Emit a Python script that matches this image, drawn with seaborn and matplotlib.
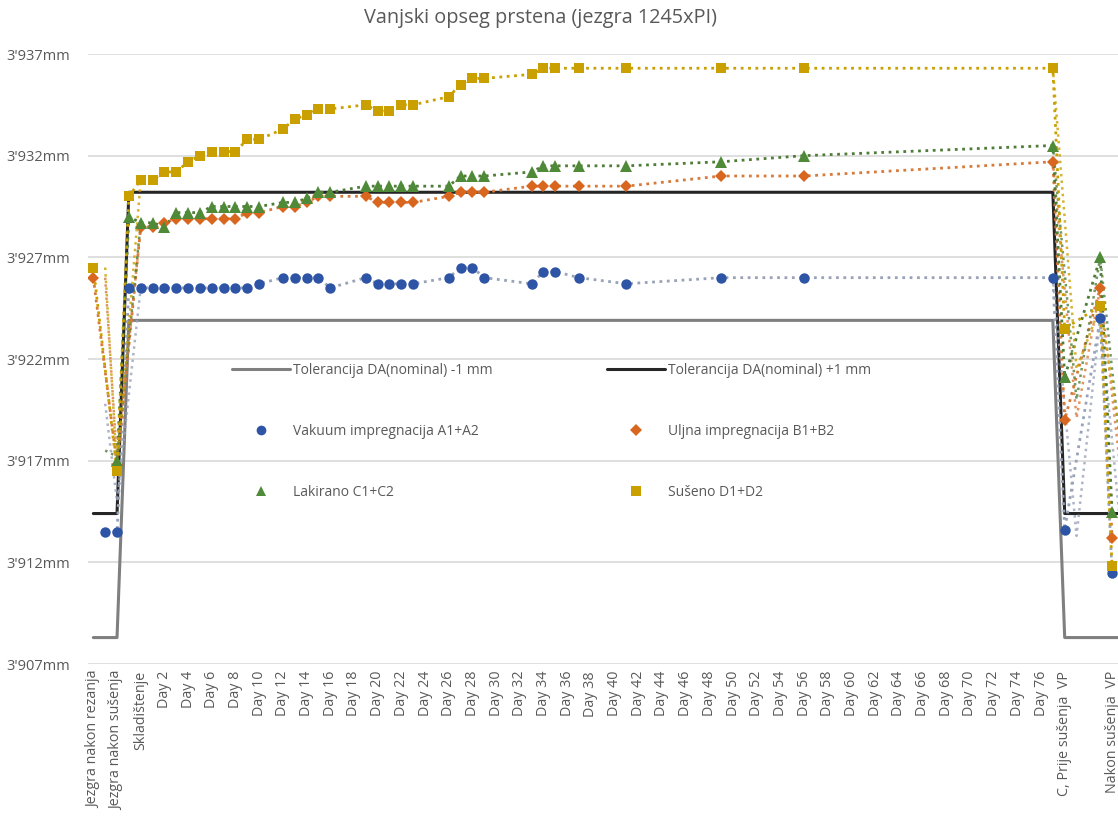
# Vanjski opseg prstena - rekonstrukcija grafa
import pandas as pd
import matplotlib.pyplot as plt
from matplotlib.lines import Line2D
import seaborn as sns

# Kategorije na x osi (svaka druga je prikazana)
kategorije = (["Jezgra nakon rezanja", "", "Jezgra nakon sušenja", "", "Skladištenje"]
              + [f"Day {d}" for d in range(1, 78)]
              + ["C, Prije sušenja  VP", "", "", "", "Nakon sušenja  VP", "", ""])

# Pozicije mjerenja tijekom skladištenja (indeksi kategorija)
mjerenja = [3, 4, 5, 6, 7, 8, 9, 10, 11, 12, 13, 14, 16, 17, 18, 19, 20,
            23, 24, 25, 26, 27, 30, 31, 32, 33, 37, 38, 39, 41, 45, 53, 60, 81]

vakuum = [3925.5, 3925.5, 3925.5, 3925.5, 3925.5, 3925.5, 3925.5, 3925.5, 3925.5, 3925.5, 3925.5,
          3925.7, 3926.0, 3926.0, 3926.0, 3926.0, 3925.5, 3926.0, 3925.7, 3925.7, 3925.7, 3925.7,
          3926.0, 3926.5, 3926.5, 3926.0, 3925.7, 3926.3, 3926.3, 3926.0, 3925.7, 3926.0, 3926.0, 3926.0]
uljna = [None, 3928.5, 3928.5, 3928.7, 3928.9, 3928.9, 3928.9, 3928.9, 3928.9, 3928.9, 3929.2,
         3929.2, 3929.5, 3929.5, 3929.7, 3930.0, 3930.0, 3930.0, 3929.7, 3929.7, 3929.7, 3929.7,
         3930.0, 3930.2, 3930.2, 3930.2, 3930.5, 3930.5, 3930.5, 3930.5, 3930.5, 3931.0, 3931.0, 3931.7]
lakirano = [3929.0, 3928.7, 3928.7, 3928.5, 3929.2, 3929.2, 3929.2, 3929.5, 3929.5, 3929.5, 3929.5,
            3929.5, 3929.7, 3929.7, 3929.9, 3930.2, 3930.2, 3930.5, 3930.5, 3930.5, 3930.5, 3930.5,
            3930.5, 3931.0, 3931.0, 3931.0, 3931.2, 3931.5, 3931.5, 3931.5, 3931.5, 3931.7, 3932.0, 3932.5]
suseno = [3930.0, 3930.8, 3930.8, 3931.2, 3931.2, 3931.7, 3932.0, 3932.2, 3932.2, 3932.2, 3932.8,
          3932.8, 3933.3, 3933.8, 3934.0, 3934.3, 3934.3, 3934.5, 3934.2, 3934.2, 3934.5, 3934.5,
          3934.9, 3935.5, 3935.8, 3935.8, 3936.0, 3936.3, 3936.3, 3936.3, 3936.3, 3936.3, 3936.3, 3936.3]

# Mjerenja prije skladištenja
vakuum_prije_x, vakuum_prije = [1, 2], [3913.5, 3913.5]
uljna_prije_x, uljna_prije = [0, 2], [3926.0, 3916.8]
lakirano_prije_x, lakirano_prije = [2], [3917.0]
suseno_prije_x, suseno_prije = [0, 2], [3926.5, 3916.5]

# Mjerenja prije / nakon sušenja VP
vp_x = [82, 85, 86]
vakuum_vp = [3913.6, 3924.0, 3911.5]
uljna_vp = [3919.0, 3925.5, 3913.2]
lakirano_vp = [3921.1, 3927.0, 3914.5]
suseno_vp = [3923.5, 3924.6, 3911.8]

# Drugi uzorak (samo točkasta linija)
drugi_lijevo_x = [1, 2, 4]
drugi_desno_x = [81, 83, 85, 87]
vakuum_drugi = [3919.8, 3915.0, 3925.5], [3926.0, 3913.3, 3924.0, 3912.0]
uljna_drugi = [3926.0, 3917.0, 3928.5], [3931.7, 3919.1, 3925.5, 3915.0]
lakirano_drugi = [3917.5, 3917.2, 3928.7], [3932.5, 3920.0, 3927.0, 3916.0]
suseno_drugi = [3926.5, 3916.5, 3930.8], [3936.3, 3921.5, 3924.6, 3917.0]

# Tolerancije
tol_minus = [3908.3] * 3 + [3923.9] * 79 + [3908.3] * 7
tol_plus = [3914.4] * 3 + [3930.2] * 79 + [3914.4] * 7

sns.set_style("white")
plt.rcParams['font.family'] = ['Open Sans', 'DejaVu Sans']

fig = plt.figure(figsize=(11.18, 8.21), dpi=100)
ax = fig.add_axes([88 / 1118, 1 - 664 / 821, 1 - 88 / 1118, 610 / 821])

# Linije tolerancije
sns.lineplot(x=list(range(len(tol_minus))), y=tol_minus, color='#7f7f7f', lw=2.2, ax=ax)
sns.lineplot(x=list(range(len(tol_plus))), y=tol_plus, color='#262626', lw=2.2, ax=ax)

serije = [
    (vakuum, vakuum_prije_x, vakuum_prije, vakuum_vp, vakuum_drugi, '#2e55a5', '#98a2b8', 'o', 7.5),
    (uljna, uljna_prije_x, uljna_prije, uljna_vp, uljna_drugi, '#d8661e', '#d87a3a', 'D', 6.5),
    (lakirano, lakirano_prije_x, lakirano_prije, lakirano_vp, lakirano_drugi, '#4f8a38', '#4f7d38', '^', 8.5),
    (suseno, suseno_prije_x, suseno_prije, suseno_vp, suseno_drugi, '#c9a000', '#c9a000', 's', 7.8),
]

for vals, px, pv, vp, drugi, boja, boja_linije, marker, ms in serije:
    df = pd.DataFrame({'x': px + mjerenja + vp_x, 'y': pv + vals + vp}).dropna()
    # drugi uzorak - bez markera
    d2 = pd.DataFrame({'x': drugi_lijevo_x + drugi_desno_x,
                       'y': drugi[0] + drugi[1],
                       'seg': [0] * len(drugi_lijevo_x) + [1] * len(drugi_desno_x)})
    sns.lineplot(data=d2, x='x', y='y', units='seg', estimator=None, sort=False,
                 color=boja_linije, lw=1.8, linestyle=':', alpha=0.8, ax=ax)
    sns.lineplot(data=df, x='x', y='y', sort=False, estimator=None, color=boja_linije,
                 lw=2, linestyle=':', ax=ax)
    ax.plot(df['x'], df['y'], linestyle='none', marker=marker, ms=ms, mew=0, color=boja, zorder=4)

# Osi
ax.set_xlim(-0.45, 86.5)
ax.set_ylim(3907, 3937)
ax.set_xticks(range(0, 87, 2))
ax.set_xticklabels(kategorije[0:87:2], rotation=90, fontsize=10.3, color='#595959')
ax.set_yticks(range(3907, 3938, 5))
ax.set_yticklabels([f"{v // 1000}'{v % 1000:03d}mm" for v in range(3907, 3938, 5)],
                   fontsize=10.5, color='#595959')
ax.tick_params(axis='x', length=0, pad=5)
ax.tick_params(axis='y', length=0, pad=13)
ax.grid(axis='y', color='#d9d9d9', lw=1.2)
ax.set_axisbelow(True)
for s in ax.spines.values():
    s.set_visible(False)
ax.set_xlabel('')
ax.set_ylabel('')

# Legenda
handles = [
    Line2D([], [], color='#7f7f7f', lw=2.2),
    Line2D([], [], ls='none', marker='o', ms=7, mew=0, color='#2e55a5'),
    Line2D([], [], ls='none', marker='^', ms=7, mew=0, color='#4f8a38'),
    Line2D([], [], color='#262626', lw=2.2),
    Line2D([], [], ls='none', marker='D', ms=6, mew=0, color='#d8661e'),
    Line2D([], [], ls='none', marker='s', ms=7, mew=0, color='#c9a000'),
]
labels = ['Tolerancija DA(nominal) -1 mm', 'Vakuum impregnacija A1+A2', 'Lakirano C1+C2',
          'Tolerancija DA(nominal) +1 mm', 'Uljna impregnacija B1+B2', 'Sušeno D1+D2']
ax.legend(handles, labels, ncol=2, loc='upper left', bbox_to_anchor=(0.1398, 0.493),
          frameon=False, fontsize=10, labelspacing=3.3, handlelength=4.2, handletextpad=0.2,
          columnspacing=8.2, borderaxespad=0, borderpad=0, labelcolor='#595959')

fig.text(541 / 1118, 1 - 18 / 821, 'Vanjski opseg prstena (jezgra 1245xPI)',
         ha='center', va='center', fontsize=14.3, color='#595959')

plt.savefig('out.png', dpi=100)
